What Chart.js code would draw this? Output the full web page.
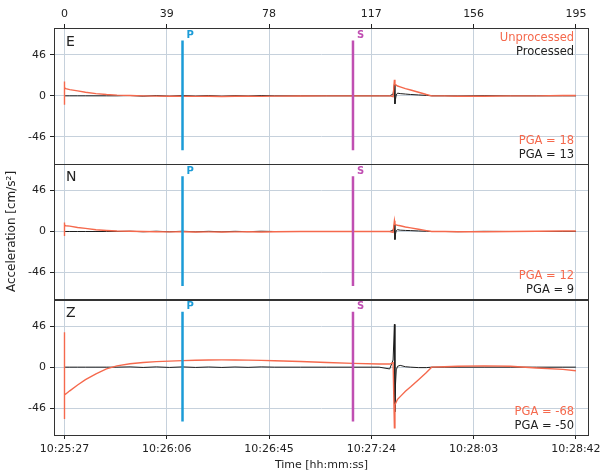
<!DOCTYPE html>
<html>
<head>
<meta charset="utf-8">
<script src="https://cdn.jsdelivr.net/npm/chart.js@4/dist/chart.umd.min.js"></script>
<style>
  html, body { margin: 0; padding: 0; background: #fff; }
  canvas { display: block; }
</style>
</head>
<body>
<canvas id="seis" width="605" height="476"></canvas>
<script>
// ---- data ----
const timeSec = [0, 0, 0, 0.5, 2, 5, 8, 12, 16, 20, 25, 30, 35, 40, 45, 50, 55, 60, 65, 70, 75, 80, 90, 100, 110, 120,
  124, 125.3, 125.8, 126, 126.2, 126.5, 127, 128, 130, 132, 135, 138, 140, 145, 150, 160, 170, 180, 190, 195];

const eRaw  = [-10, 16, 9, 8, 7, 5.5, 4, 2.5, 1.5, 0.8, 0.3, 0, -0.3, -0.5, -0.5, -0.6, -0.5, -0.7, -0.5, -0.3, -0.6, -0.3, -0.2, 0, 0, 0,
  0, -1, 18, 13, 12.5, 12, 11, 10, 8, 6.5, 4, 1.5, 0, 0, -0.4, -0.4, 0, 0, 0.4, 0.4];
const eProc = [0, 0, 0, 0, 0, 0, 0, 0, 0, 0, 0.3, -0.4, 0.3, -0.4, 0.4, -0.3, 0.3, -0.4, 0.2, -0.2, 0.3, 0, 0, 0, 0, 0,
  0, 2, 13, -9, -4, 1, 3, 2.5, 2, 1.5, 1, 0.5, 0, 0, -0.2, 0.2, 0, 0, 0, 0];

const nRaw  = [-5, 10, 7, 6.5, 6, 4.5, 3.5, 2, 1.2, 0.6, 0.2, 0, -0.2, -0.4, -0.3, -0.5, -0.4, -0.6, -0.4, -0.2, -0.5, -0.2, 0, 0, 0, 0,
  0, -1, 12, 8, 8, 7.5, 7, 6.5, 5, 4, 2.5, 1, 0, 0, -0.3, -0.3, 0, 0.3, 0.5, 0.5];
const nProc = [0, 0, 0, 0, 0, 0, 0, 0, 0, 0, 0.3, -0.3, 0.3, -0.3, 0.3, -0.3, 0.2, -0.3, 0.2, -0.2, 0.3, 0, 0, 0, 0, 0,
  0, 1.5, 8, -9, -3, 1, 2, 1.5, 1.2, 1, 0.6, 0.3, 0, 0, -0.2, 0.2, 0, 0, 0, 0];

const zRaw  = [-58, 39, -31, -30, -26.5, -20, -14, -7.5, -2, 1.5, 3.8, 5.2, 6.2, 6.8, 7.3, 7.8, 8.1, 8.2, 8.1, 7.9, 7.6, 7.2, 6.3, 5.3, 4.3, 3.6,
  3.5, 5, -68, -42, -41, -39, -36, -33, -27, -22, -14, -6, 0, 0.5, 1, 1.5, 1, -1, -2.5, -4];
const zProc = [0, 0, 0, 0, 0, 0, 0, 0, 0, 0, 0.3, -0.3, 0.3, -0.3, 0.3, -0.3, 0.2, -0.3, 0.2, -0.2, 0.3, 0, 0, 0, 0, 0,
  -2, 8, 48, -50, -20, -3, 1, 2, 0.5, 0, -0.5, -0.5, 0, 0, 0, 0, 0, 0, 0, 0];

const panelNames = ['E', 'N', 'Z'];
const pgaRaw  = [18, 12, -68];
const pgaProc = [13, 9, -50];

const pickNames = ['P', 'S'];
const pickTimes = [45, 110];
const pickSpan  = [-61, 62];

const tickSec    = [0, 39, 78, 117, 156, 195];
const timeLabels = ['10:25:27', '10:26:06', '10:26:45', '10:27:24', '10:28:03', '10:28:42'];
const yTicks     = [-46, 0, 46];

// ---- styles ----
const RED = '#f5694d', BLACK = '#1c1c1c', INK = '#222', GRID = '#c6d1dc';
const pickColors = ['#1b9bd7', '#c04fb2'];
const FONT = "'DejaVu Sans', sans-serif";

const axisIds = ['yE', 'yN', 'yZ'];
const raws = [eRaw, nRaw, zRaw], procs = [eProc, nProc, zProc];
const pts = vals => timeSec.map((t, i) => ({ x: t, y: vals[i] }));

const datasets = [];
axisIds.forEach((id, k) => {
  pickTimes.forEach((t, j) => datasets.push({
    data: pickSpan.map(v => ({ x: t, y: v })), borderColor: pickColors[j], borderWidth: 2.5,
    yAxisID: id, xAxisID: 'x', pointRadius: 0
  }));
  datasets.push({ data: pts(raws[k]), borderColor: RED, borderWidth: 1.4, yAxisID: id, xAxisID: 'x', pointRadius: 0 });
  datasets.push({ data: pts(procs[k]), borderColor: BLACK, borderWidth: 1, yAxisID: id, xAxisID: 'x', pointRadius: 0 });
});

const yScale = () => ({
  type: 'linear', position: 'left', stack: 'panels', stackWeight: 1, min: -76, max: 76,
  afterBuildTicks: s => { s.ticks = yTicks.map(v => ({ value: v })); },
  afterFit: s => { s.width = 54; },
  ticks: { color: INK, font: { family: FONT, size: 11 }, padding: 4 },
  grid: { color: GRID, tickColor: INK, tickLength: 4 },
  border: { display: false }
});

const scales = {
  x: {
    type: 'linear', position: 'bottom', min: -4, max: 200,
    afterBuildTicks: s => { s.ticks = tickSec.map(v => ({ value: v })); },
    afterFit: s => { s.height = 41; },
    ticks: { color: INK, font: { family: FONT, size: 11 }, padding: 4, maxRotation: 0, autoSkip: false,
      callback: (v, i) => timeLabels[i] },
    grid: { color: GRID, tickColor: INK, tickLength: 4 },
    border: { display: false },
    title: { display: true, text: 'Time [hh:mm:ss]', color: INK, font: { family: FONT, size: 11 }, padding: { top: 0, bottom: 4 } }
  },
  x2: {
    type: 'linear', position: 'top', min: -4, max: 200,
    afterBuildTicks: s => { s.ticks = tickSec.map(v => ({ value: v })); },
    afterFit: s => { s.height = 28; },
    ticks: { color: INK, font: { family: FONT, size: 11 }, padding: 3, maxRotation: 0, autoSkip: false },
    grid: { drawOnChartArea: false, tickColor: INK, tickLength: 4 },
    border: { display: false }
  }
};
// stacked left axes are laid out last-defined on top, so add them bottom panel first
[...axisIds].reverse().forEach(id => { scales[id] = yScale(); });

const panelDecor = {
  id: 'panelDecor',
  afterDraw(chart) {
    const { ctx, chartArea: a } = chart;
    const xs = chart.scales.x;
    ctx.save();
    axisIds.forEach((id, k) => {
      const s = chart.scales[id];
      ctx.strokeStyle = '#333';
      ctx.lineWidth = 1;
      ctx.strokeRect(Math.round(a.left) + 0.5, Math.round(s.top) + 0.5, Math.round(a.right - a.left) - 1, Math.round(s.bottom - s.top));

      ctx.textBaseline = 'middle';
      ctx.textAlign = 'left';
      ctx.fillStyle = INK;
      ctx.font = `14px ${FONT}`;
      ctx.fillText(panelNames[k], a.left + 12, s.top + 14);

      ctx.font = `bold 10px ${FONT}`;
      pickTimes.forEach((t, j) => {
        ctx.fillStyle = pickColors[j];
        ctx.fillText(pickNames[j], xs.getPixelForValue(t) + 4, s.getPixelForValue(pickSpan[1]) - 5);
      });

      ctx.textAlign = 'right';
      ctx.font = `11.5px ${FONT}`;
      ctx.fillStyle = RED;
      ctx.fillText(`PGA = ${pgaRaw[k]}`, a.right - 15, s.bottom - 23);
      ctx.fillStyle = INK;
      ctx.fillText(`PGA = ${pgaProc[k]}`, a.right - 15, s.bottom - 9);
      if (k === 0) {
        ctx.fillStyle = RED;
        ctx.fillText('Unprocessed', a.right - 15, s.top + 10);
        ctx.fillStyle = INK;
        ctx.fillText('Processed', a.right - 15, s.top + 24);
      }
    });

    // shared y title
    ctx.translate(12, (a.top + a.bottom) / 2);
    ctx.rotate(-Math.PI / 2);
    ctx.textAlign = 'center';
    ctx.fillStyle = INK;
    ctx.font = `12px ${FONT}`;
    ctx.fillText('Acceleration [cm/s²]', 0, 0);
    ctx.restore();
  }
};

new Chart(document.getElementById('seis'), {
  type: 'line',
  data: { datasets },
  options: {
    responsive: false,
    animation: false,
    layout: { padding: { right: 13 } },
    elements: { line: { tension: 0 } },
    plugins: { legend: { display: false }, tooltip: { enabled: false } },
    scales
  },
  plugins: [panelDecor]
});
</script>
</body>
</html>
